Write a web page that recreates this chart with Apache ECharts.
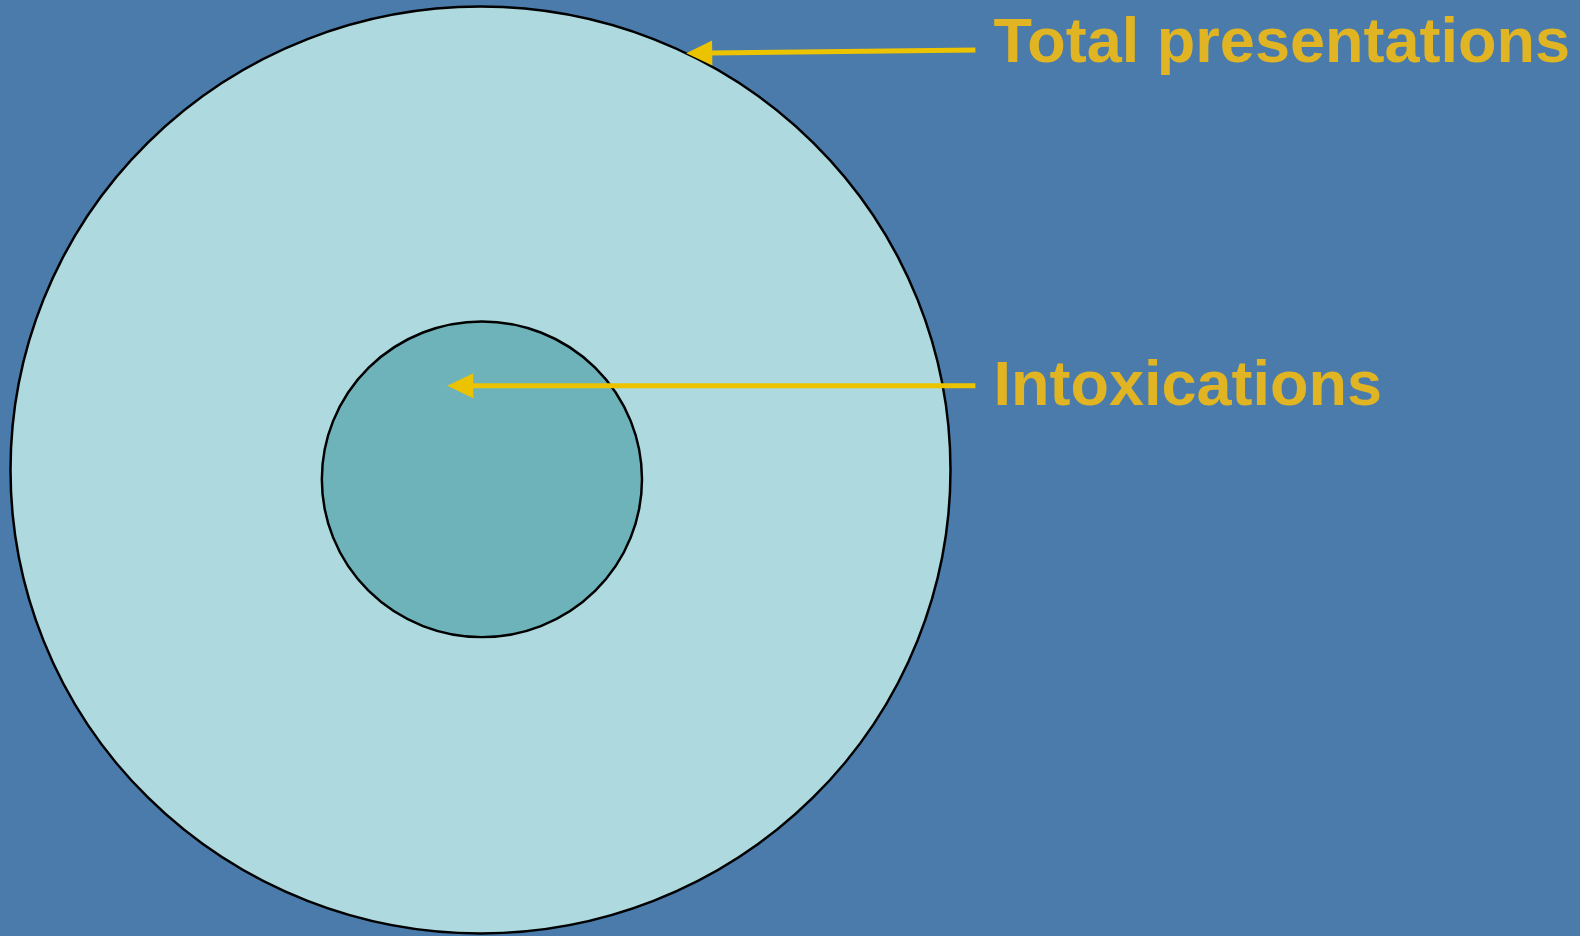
<!DOCTYPE html>
<html>
<head>
<meta charset="utf-8">
<title>Intoxications among total presentations</title>
<script src="https://cdn.jsdelivr.net/npm/echarts@6/dist/echarts.min.js"></script>
<style>
  html, body { margin: 0; padding: 0; background: #4A7BAA; }
  #chart { width: 1580px; height: 936px; }
</style>
</head>
<body>
<div id="chart"></div>
<script>
// Share of presentations (total = 100); circle area is proportional to value
const categories = ['Total presentations', 'Intoxications'];
const values = [100, 11.6];
// circle centres in axis units
const centreX = [0, 0.003];
const centreY = [0, -0.02];
const fills = ['#ADD9DF', '#6FB3BA'];

// annotation arrows (axis units): tail, tip, and top-left corner of each label
const arrowTail = [[1.053, 0.906], [1.053, 0.182]];
const arrowTip = [[0.4377, 0.899], [-0.0707, 0.182]];
const labelAt = [[1.0916, 0.9864], [1.0916, 0.2449]];

const chart = echarts.init(document.getElementById('chart'), null, { renderer: 'canvas' });

const circleData = categories.map((c, i) => ({
  name: c,
  value: [centreX[i], centreY[i], Math.sqrt(values[i] / values[0]), i]
}));

const annotData = categories.map((c, i) => ({
  name: c,
  value: [arrowTail[i][0], arrowTail[i][1], arrowTip[i][0], arrowTip[i][1], labelAt[i][0], labelAt[i][1]]
}));

const arrowColor = '#EBC300';
const textColor = '#E0B422';

chart.setOption({
  backgroundColor: '#4A7BAA',
  animation: false,
  grid: { left: 10.5, right: 629.5, top: 6.5, bottom: 2.5 },
  xAxis: { type: 'value', min: -1, max: 1, show: false },
  yAxis: { type: 'value', min: -1, max: 1, show: false },
  series: [
    {
      type: 'custom',
      clip: false,
      data: circleData,
      renderItem: function (params, api) {
        const c = api.coord([api.value(0), api.value(1)]);
        const r = api.value(2);
        const s = api.size([r, r]);
        const rx = s[0], ry = s[1];
        return {
          type: 'circle',
          x: c[0],
          y: c[1],
          scaleY: ry / rx,
          shape: { cx: 0, cy: 0, r: rx },
          style: {
            fill: fills[api.value(3)],
            stroke: '#000',
            lineWidth: 2.5,
            strokeNoScale: true
          }
        };
      }
    },
    {
      type: 'custom',
      clip: false,
      z: 5,
      data: annotData,
      renderItem: function (params, api) {
        const tail = api.coord([api.value(0), api.value(1)]);
        const tip = api.coord([api.value(2), api.value(3)]);
        const lab = api.coord([api.value(4), api.value(5)]);
        const dx = tail[0] - tip[0], dy = tail[1] - tip[1];
        const len = Math.sqrt(dx * dx + dy * dy);
        const ux = dx / len, uy = dy / len;
        const headLen = 26, headHalf = 12.5;
        const bx = tip[0] + ux * headLen, by = tip[1] + uy * headLen;
        const px = -uy, py = ux;
        return {
          type: 'group',
          children: [
            {
              type: 'line',
              shape: { x1: tail[0], y1: tail[1], x2: bx - ux * 2, y2: by - uy * 2 },
              style: { stroke: arrowColor, lineWidth: 5 }
            },
            {
              type: 'polygon',
              shape: {
                points: [
                  [tip[0], tip[1]],
                  [bx + px * headHalf, by + py * headHalf],
                  [bx - px * headHalf, by - py * headHalf]
                ]
              },
              style: { fill: arrowColor }
            },
            {
              type: 'text',
              x: lab[0],
              y: lab[1],
              style: {
                text: categories[params.dataIndex],
                fill: textColor,
                font: 'bold 63px "Liberation Sans", Arial, Helvetica, sans-serif',
                align: 'left',
                verticalAlign: 'top'
              }
            }
          ]
        };
      }
    }
  ]
});
</script>
</body>
</html>
